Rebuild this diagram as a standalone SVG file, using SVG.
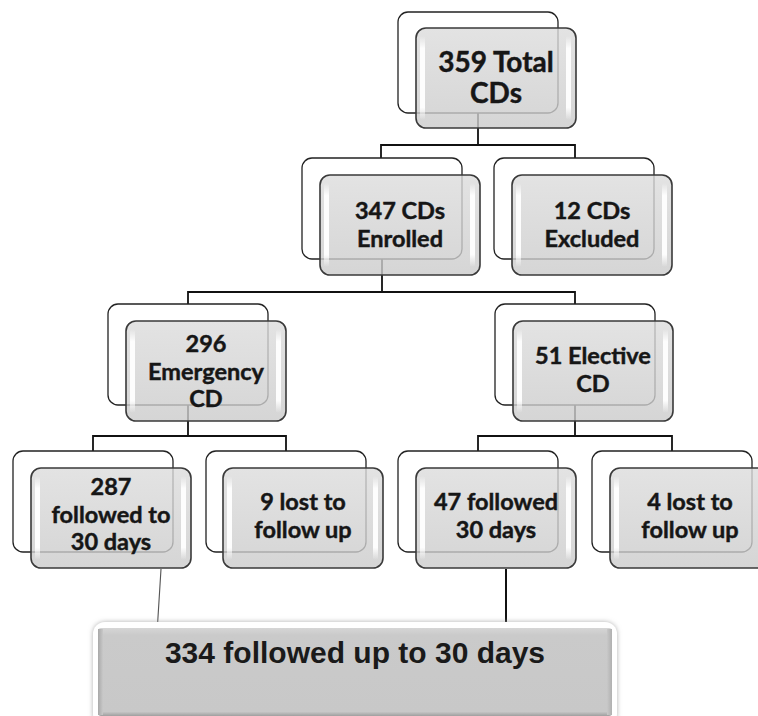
<svg xmlns="http://www.w3.org/2000/svg" width="758" height="716" viewBox="0 0 758 716">
<defs>
<linearGradient id="gf" x1="0" y1="0" x2="0" y2="1">
<stop offset="0" stop-color="#dcdcdc"/>
<stop offset="1" stop-color="#cbcbcb"/>
</linearGradient>
<linearGradient id="gh" x1="0" y1="0" x2="0" y2="1">
<stop offset="0" stop-color="#fff" stop-opacity="0"/>
<stop offset="0.15" stop-color="#fff" stop-opacity="0.95"/>
<stop offset="0.85" stop-color="#fff" stop-opacity="0.95"/>
<stop offset="1" stop-color="#fff" stop-opacity="0"/>
</linearGradient>
<linearGradient id="gb" x1="0" y1="0" x2="0" y2="1">
<stop offset="0" stop-color="#d6d6d6"/>
<stop offset="0.08" stop-color="#cacaca"/>
<stop offset="0.95" stop-color="#c8c8c8"/>
<stop offset="1" stop-color="#9f9f9f"/>
</linearGradient>
<linearGradient id="gl" x1="0" y1="0" x2="1" y2="0">
<stop offset="0" stop-color="#a8a8a8"/>
<stop offset="1" stop-color="#c8c8c8"/>
</linearGradient>
<linearGradient id="gr" x1="0" y1="0" x2="1" y2="0">
<stop offset="0" stop-color="#c8c8c8"/>
<stop offset="1" stop-color="#b0b0b0"/>
</linearGradient>
<filter id="glow" x="-5%" y="-20%" width="110%" height="140%">
<feDropShadow dx="0" dy="0" stdDeviation="2.5" flood-color="#9a9a9a" flood-opacity="0.8"/>
</filter>
<style>
.back{fill:#fff;stroke:#222;stroke-width:1.3}
.front{fill:url(#gf);fill-opacity:0.8;stroke:#3a3a3a;stroke-width:1.6}
.hl{fill:url(#gh)}
.t{font-family:Lato,"Liberation Sans",sans-serif;font-weight:bold;font-size:23.5px;fill:#161616;stroke:#161616;stroke-width:0.45;text-anchor:middle}
.conn{stroke:#111;stroke-width:1.8;fill:none}
.big{font-family:"Liberation Sans",Arial,sans-serif;font-weight:bold;font-size:30px;fill:#1a1a1a;text-anchor:middle}
</style>
</defs>
<rect width="758" height="716" fill="#fff"/>
<g id="connectors">
<path class="conn" d="M478 113V145M381 158V145H575V158"/>
<path class="conn" d="M382 259V292M188 304V292H575V304"/>
<path class="conn" d="M188 405V436M93 451V436H286V451"/>
<path class="conn" d="M575 405V436M478 451V436H672V451"/>
<path d="M161 569L157 633" stroke="#555" stroke-width="1.1" fill="none"/>
<path d="M506 569V627" stroke="#111" stroke-width="2" fill="none"/>
</g>
<g id="n-total">
<rect class="back" x="398" y="12" width="160" height="101" rx="10"/>
<rect class="front" x="416" y="28" width="160" height="100" rx="10"/>
<rect class="hl" x="420" y="36" width="5" height="84" rx="2.5"/>
<rect class="hl" x="566" y="36" width="5" height="84" rx="2.5"/>
<text class="t" x="496" y="72" style="font-size:28px">359 Total</text>
<text class="t" x="496" y="103" style="font-size:28px">CDs</text>
</g>
<g id="n-enrolled">
<rect class="back" x="302" y="158" width="160" height="101" rx="10"/>
<rect class="front" x="320" y="175" width="160" height="100" rx="10"/>
<rect class="hl" x="324" y="183" width="5" height="84" rx="2.5"/>
<rect class="hl" x="470" y="183" width="5" height="84" rx="2.5"/>
<text class="t" x="400" y="219">347 CDs</text>
<text class="t" x="400" y="247">Enrolled</text>
</g>
<g id="n-excluded">
<rect class="back" x="494" y="158" width="160" height="101" rx="10"/>
<rect class="front" x="512" y="175" width="160" height="100" rx="10"/>
<rect class="hl" x="516" y="183" width="5" height="84" rx="2.5"/>
<rect class="hl" x="662" y="183" width="5" height="84" rx="2.5"/>
<text class="t" x="592" y="219">12 CDs</text>
<text class="t" x="592" y="247">Excluded</text>
</g>
<g id="n-emergency">
<rect class="back" x="108" y="304" width="160" height="101" rx="10"/>
<rect class="front" x="126" y="321" width="160" height="100" rx="10"/>
<rect class="hl" x="130" y="329" width="5" height="84" rx="2.5"/>
<rect class="hl" x="276" y="329" width="5" height="84" rx="2.5"/>
<text class="t" x="206" y="352">296</text>
<text class="t" x="206" y="380">Emergency</text>
<text class="t" x="206" y="407">CD</text>
</g>
<g id="n-elective">
<rect class="back" x="495" y="304" width="160" height="101" rx="10"/>
<rect class="front" x="513" y="321" width="160" height="100" rx="10"/>
<rect class="hl" x="517" y="329" width="5" height="84" rx="2.5"/>
<rect class="hl" x="663" y="329" width="5" height="84" rx="2.5"/>
<text class="t" x="593" y="364">51 Elective</text>
<text class="t" x="593" y="392">CD</text>
</g>
<g id="n-287">
<rect class="back" x="13" y="451" width="160" height="101" rx="10"/>
<rect class="front" x="31" y="468" width="160" height="100" rx="10"/>
<rect class="hl" x="35" y="476" width="5" height="84" rx="2.5"/>
<rect class="hl" x="181" y="476" width="5" height="84" rx="2.5"/>
<text class="t" x="111" y="495">287</text>
<text class="t" x="111" y="523">followed to</text>
<text class="t" x="111" y="550">30 days</text>
</g>
<g id="n-9lost">
<rect class="back" x="206" y="451" width="160" height="101" rx="10"/>
<rect class="front" x="223" y="468" width="160" height="100" rx="10"/>
<rect class="hl" x="227" y="476" width="5" height="84" rx="2.5"/>
<rect class="hl" x="373" y="476" width="5" height="84" rx="2.5"/>
<text class="t" x="303" y="510">9 lost to</text>
<text class="t" x="303" y="538">follow up</text>
</g>
<g id="n-47">
<rect class="back" x="398" y="451" width="160" height="101" rx="10"/>
<rect class="front" x="416" y="468" width="160" height="100" rx="10"/>
<rect class="hl" x="420" y="476" width="5" height="84" rx="2.5"/>
<rect class="hl" x="566" y="476" width="5" height="84" rx="2.5"/>
<text class="t" x="496" y="510">47 followed</text>
<text class="t" x="496" y="538">30 days</text>
</g>
<g id="n-4lost">
<rect class="back" x="592" y="451" width="160" height="101" rx="10"/>
<rect class="front" x="610" y="468" width="160" height="100" rx="10"/>
<rect class="hl" x="614" y="476" width="5" height="84" rx="2.5"/>
<text class="t" x="690" y="510">4 lost to</text>
<text class="t" x="690" y="538">follow up</text>
</g>
<g id="n-summary">
<rect x="93" y="622" width="524" height="104" rx="12" fill="#fff" filter="url(#glow)"/>
<rect x="98" y="628" width="514" height="88" rx="3" fill="url(#gb)"/>
<rect x="98" y="629" width="5" height="86" fill="url(#gl)"/>
<rect x="607" y="629" width="5" height="86" fill="url(#gr)"/>
<text class="big" x="355" y="663">334 followed up to 30 days</text>
</g>
</svg>
